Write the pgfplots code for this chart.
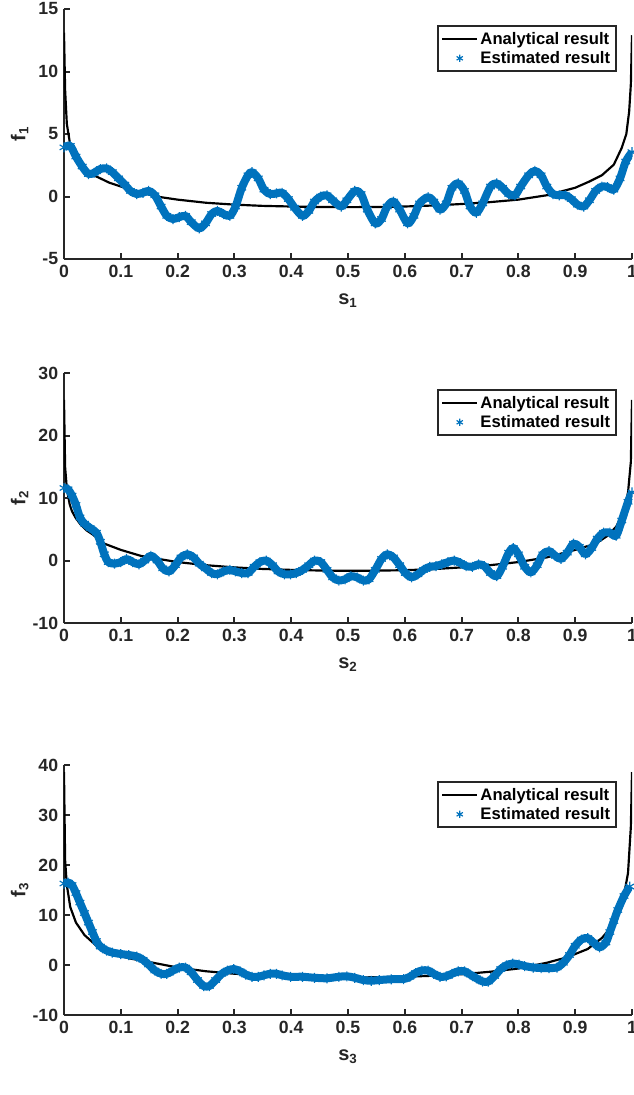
\documentclass[border=0pt]{standalone}
\usepackage{pgfplots}
\pgfplotsset{compat=1.18}
\usepackage{pgfplotstable}
\usepackage{fontspec}
\setmainfont{Liberation Sans}
\definecolor{mblue}{HTML}{0072BD}
\definecolor{axc}{HTML}{262626}

\pgfplotstableread{
s f
0 13.1
0.002 8.5
0.005 5.8
0.01 4.4
0.02 3.0
0.03 2.4
0.043 1.9
0.064 1.45
0.08 1.1
0.1 0.8
0.135 0.3
0.17 -0.05
0.2 -0.25
0.25 -0.5
0.3 -0.65
0.35 -0.75
0.4 -0.8
0.45 -0.84
0.5 -0.85
0.55 -0.84
0.6 -0.8
0.65 -0.72
0.7 -0.6
0.75 -0.45
0.8 -0.25
0.85 0.1
0.9 0.7
0.925 1.2
0.947 1.7
0.968 2.55
0.982 3.9
0.99 5.0
0.995 6.8
0.998 9.0
1.0 12.9
}\anaA

\pgfplotstableread{
s f
0 3.93
0.011 4.05
0.021 3.2
0.032 2.4
0.043 1.8
0.053 1.9
0.064 2.2
0.075 2.25
0.085 1.95
0.096 1.45
0.107 0.95
0.117 0.45
0.128 0.2
0.139 0.3
0.149 0.45
0.160 0.1
0.171 -0.8
0.181 -1.55
0.192 -1.8
0.203 -1.65
0.214 -1.55
0.224 -2.05
0.238 -2.55
0.249 -2.15
0.260 -1.4
0.270 -1.15
0.281 -1.4
0.292 -1.55
0.302 -0.8
0.313 0.7
0.324 1.7
0.331 1.95
0.342 1.45
0.352 0.55
0.363 0.2
0.374 0.25
0.384 0.3
0.395 -0.2
0.406 -0.9
0.420 -1.55
0.431 -1.15
0.441 -0.4
0.452 0
0.463 0.1
0.473 -0.3
0.488 -0.8
0.498 -0.3
0.512 0.45
0.523 0.2
0.534 -1.05
0.548 -2.15
0.559 -1.8
0.569 -0.8
0.580 -0.4
0.591 -1.05
0.605 -2.15
0.616 -1.55
0.626 -0.55
0.641 -0.05
0.651 -0.4
0.662 -1.05
0.673 -0.55
0.683 0.7
0.694 1.05
0.705 0.45
0.715 -0.8
0.726 -1.3
0.737 -0.55
0.751 0.8
0.762 1.05
0.772 0.7
0.783 0.2
0.794 0.1
0.804 0.8
0.818 1.7
0.829 2.05
0.840 1.7
0.850 0.8
0.861 0.2
0.872 0.1
0.883 0.1
0.893 -0.2
0.904 -0.65
0.915 -0.8
0.925 -0.3
0.936 0.45
0.947 0.8
0.957 0.75
0.968 0.55
0.979 1.45
0.989 2.8
1.0 3.55
}\estA

\pgfplotstableread{
s f
0 25.7
0.002 14.9
0.005 11.5
0.01 9.0
0.014 7.9
0.02 6.9
0.028 5.9
0.04 4.8
0.05 4.2
0.071 2.7
0.1 1.7
0.135 0.75
0.17 0.2
0.2 -0.25
0.25 -0.75
0.3 -1.1
0.35 -1.35
0.4 -1.5
0.45 -1.6
0.5 -1.65
0.55 -1.62
0.6 -1.55
0.65 -1.38
0.7 -1.1
0.75 -0.75
0.8 -0.25
0.85 0.5
0.9 1.7
0.936 2.7
0.957 3.95
0.972 5.4
0.986 7.9
0.993 10.9
0.998 15.8
1.0 25.7
}\anaB

\pgfplotstableread{
s f
0 11.6
0.007 11.4
0.014 10.4
0.021 8.9
0.028 6.9
0.036 5.9
0.046 5.2
0.057 4.45
0.064 3.0
0.071 1.0
0.078 -0.25
0.089 -0.5
0.1 -0.25
0.11 0.25
0.121 -0.25
0.132 -0.6
0.142 0
0.153 0.75
0.164 0
0.174 -1.25
0.185 -1.75
0.196 -0.75
0.206 0.5
0.217 1.0
0.228 0.5
0.238 -0.5
0.249 -1.25
0.26 -2.0
0.27 -2.2
0.281 -1.75
0.292 -1.5
0.302 -1.75
0.313 -2.0
0.324 -2.0
0.335 -1.0
0.345 -0.25
0.356 0
0.367 -0.75
0.377 -1.75
0.388 -2.2
0.399 -2.2
0.409 -2.0
0.42 -1.5
0.431 -0.75
0.441 0
0.452 -0.25
0.463 -1.5
0.473 -2.7
0.484 -3.2
0.495 -3.0
0.505 -2.5
0.516 -2.7
0.527 -3.2
0.537 -3.0
0.548 -1.5
0.559 0.25
0.569 1.0
0.58 0.5
0.591 -0.75
0.601 -2.0
0.612 -2.7
0.623 -2.2
0.633 -1.5
0.644 -1.0
0.655 -0.9
0.665 -0.6
0.676 -0.25
0.687 0
0.698 -0.4
0.708 -0.9
0.719 -1.0
0.73 -0.6
0.74 -0.9
0.751 -2.0
0.762 -2.5
0.772 -1.0
0.783 1.25
0.791 2.0
0.8 1.0
0.811 -1.0
0.822 -1.9
0.833 -0.75
0.843 1.0
0.854 1.5
0.865 0.75
0.875 0.25
0.886 1.25
0.897 2.7
0.907 2.2
0.918 1.0
0.929 2.0
0.939 3.5
0.95 4.45
0.961 4.45
0.972 3.95
0.982 6.4
0.993 9.4
1.0 10.9
}\estB

\pgfplotstableread{
s f
0 38.6
0.002 20.9
0.005 16.0
0.011 11.6
0.021 8.5
0.036 6.0
0.057 3.85
0.085 2.3
0.114 1.35
0.157 0.45
0.2 -0.5
0.25 -1.25
0.3 -1.75
0.35 -2.05
0.4 -2.25
0.45 -2.4
0.5 -2.5
0.55 -2.45
0.6 -2.35
0.65 -2.15
0.7 -1.85
0.75 -1.35
0.8 -0.7
0.85 0.45
0.886 1.55
0.922 3.2
0.947 5.4
0.968 8.2
0.982 11.6
0.993 18.4
0.998 27.7
1.0 38.6
}\anaC

\pgfplotstableread{
s f
0 16.3
0.007 16.5
0.014 16.0
0.021 14.4
0.028 12.5
0.036 10.4
0.043 8.5
0.05 6.6
0.057 4.8
0.064 3.7
0.075 2.9
0.085 2.5
0.1 2.2
0.114 2.0
0.128 1.7
0.139 1.05
0.149 0.1
0.16 -1.1
0.171 -1.75
0.181 -1.75
0.192 -1.1
0.203 -0.5
0.214 -0.5
0.224 -1.45
0.235 -3.0
0.246 -4.2
0.256 -4.2
0.267 -3.0
0.278 -1.75
0.288 -1.1
0.299 -0.8
0.31 -1.25
0.32 -1.9
0.331 -2.35
0.342 -2.35
0.352 -2.05
0.363 -1.75
0.374 -1.75
0.384 -2.05
0.399 -2.35
0.42 -2.35
0.441 -2.55
0.463 -2.65
0.484 -2.35
0.498 -2.25
0.512 -2.55
0.527 -3.0
0.541 -3.15
0.555 -3.0
0.576 -2.85
0.598 -2.8
0.609 -2.35
0.619 -1.6
0.63 -1.1
0.641 -1.1
0.651 -1.75
0.662 -2.35
0.673 -2.25
0.683 -1.75
0.694 -1.25
0.705 -1.25
0.715 -1.9
0.726 -2.65
0.737 -3.3
0.747 -3.3
0.758 -2.2
0.769 -0.8
0.779 -0.05
0.79 0.3
0.801 0.1
0.811 -0.2
0.826 -0.5
0.84 -0.6
0.854 -0.6
0.868 -0.5
0.879 0.45
0.89 2.0
0.9 3.85
0.911 5.1
0.922 5.4
0.932 4.5
0.943 3.55
0.954 4.5
0.961 6.6
0.968 8.8
0.975 11.0
0.986 13.8
0.996 15.7
}\estC

\pgfplotsset{
  mstyle/.style={
    scale only axis, width=340.8pt, height=150pt,
    xmin=0, xmax=1,
    axis x line*=bottom, axis y line*=left,
    axis line style={axc, line width=1.2pt},
    every tick/.style={axc, line width=1.2pt},
    tick align=inside, major tick length=3.6pt,
    xtick={0,0.1,0.2,0.3,0.4,0.5,0.6,0.7,0.8,0.9,1},
    xticklabels={0,0.1,0.2,0.3,0.4,0.5,0.6,0.7,0.8,0.9,1},
    ticklabel style={font=\bfseries\fontsize{10.6}{12}\selectfont, text=axc},
    xlabel style={at={(axis description cs:0.5,-0.18)}, anchor=base, font=\bfseries\fontsize{12}{14}\selectfont, text=axc},
    ylabel style={at={(axis description cs:-0.068,0.5)}, anchor=base, font=\bfseries\fontsize{12}{14}\selectfont, text=axc},
    legend cell align=left,
    legend style={at={(0.973,0.935)}, anchor=north east, draw=axc, line width=1.2pt, fill=white,
      inner xsep=2pt, inner ysep=2.2pt, font=\bfseries\fontsize{10}{12}\selectfont, text=black,
      nodes={inner sep=1.3pt}, row sep=0pt},
  },
  anastyle/.style={black, line width=1.3pt,
    legend image code/.code={\draw[black,line width=1.3pt] (0pt,0pt)--(21pt,0pt);}},
  bandstyle/.style={mblue, line width=4.8pt, line join=round, smooth, forget plot},
  markstyle/.style={mblue, only marks, mark=asterisk, mark size=3pt, mark options={line width=0.7pt},
    legend image code/.code={\draw[mblue, line width=0.7pt] plot[mark=asterisk, mark size=2.2pt] coordinates {(10.5pt,0pt)};}},
}

\begin{document}
\begin{tikzpicture}
\path[use as bounding box] (-38.4pt,155.4pt) rectangle (342pt,-501.6pt);

\begin{axis}[mstyle, at={(0pt,0pt)}, anchor=south west,
  ymin=-5, ymax=15, ytick={-5,0,5,10,15}, yticklabels={-5,0,5,10,15},
  xlabel={s\textsubscript{1}}, ylabel={f\textsubscript{1}}]
\addplot[anastyle] table {\anaA};
\addplot[bandstyle] table {\estA};
\addplot[markstyle] table {\estA};
\legend{Analytical result, Estimated result}
\end{axis}

\begin{axis}[mstyle, at={(0pt,-218.4pt)}, anchor=south west,
  ymin=-10, ymax=30, ytick={-10,0,10,20,30}, yticklabels={-10,0,10,20,30},
  xlabel={s\textsubscript{2}}, ylabel={f\textsubscript{2}}]
\addplot[anastyle] table {\anaB};
\addplot[bandstyle] table {\estB};
\addplot[markstyle] table {\estB};
\legend{Analytical result, Estimated result}
\end{axis}

\begin{axis}[mstyle, at={(0pt,-453.6pt)}, anchor=south west,
  ymin=-10, ymax=40, ytick={-10,0,10,20,30,40}, yticklabels={-10,0,10,20,30,40},
  xlabel={s\textsubscript{3}}, ylabel={f\textsubscript{3}}]
\addplot[anastyle] table {\anaC};
\addplot[bandstyle] table {\estC};
\addplot[markstyle] table {\estC};
\legend{Analytical result, Estimated result}
\end{axis}
\end{tikzpicture}
\end{document}
